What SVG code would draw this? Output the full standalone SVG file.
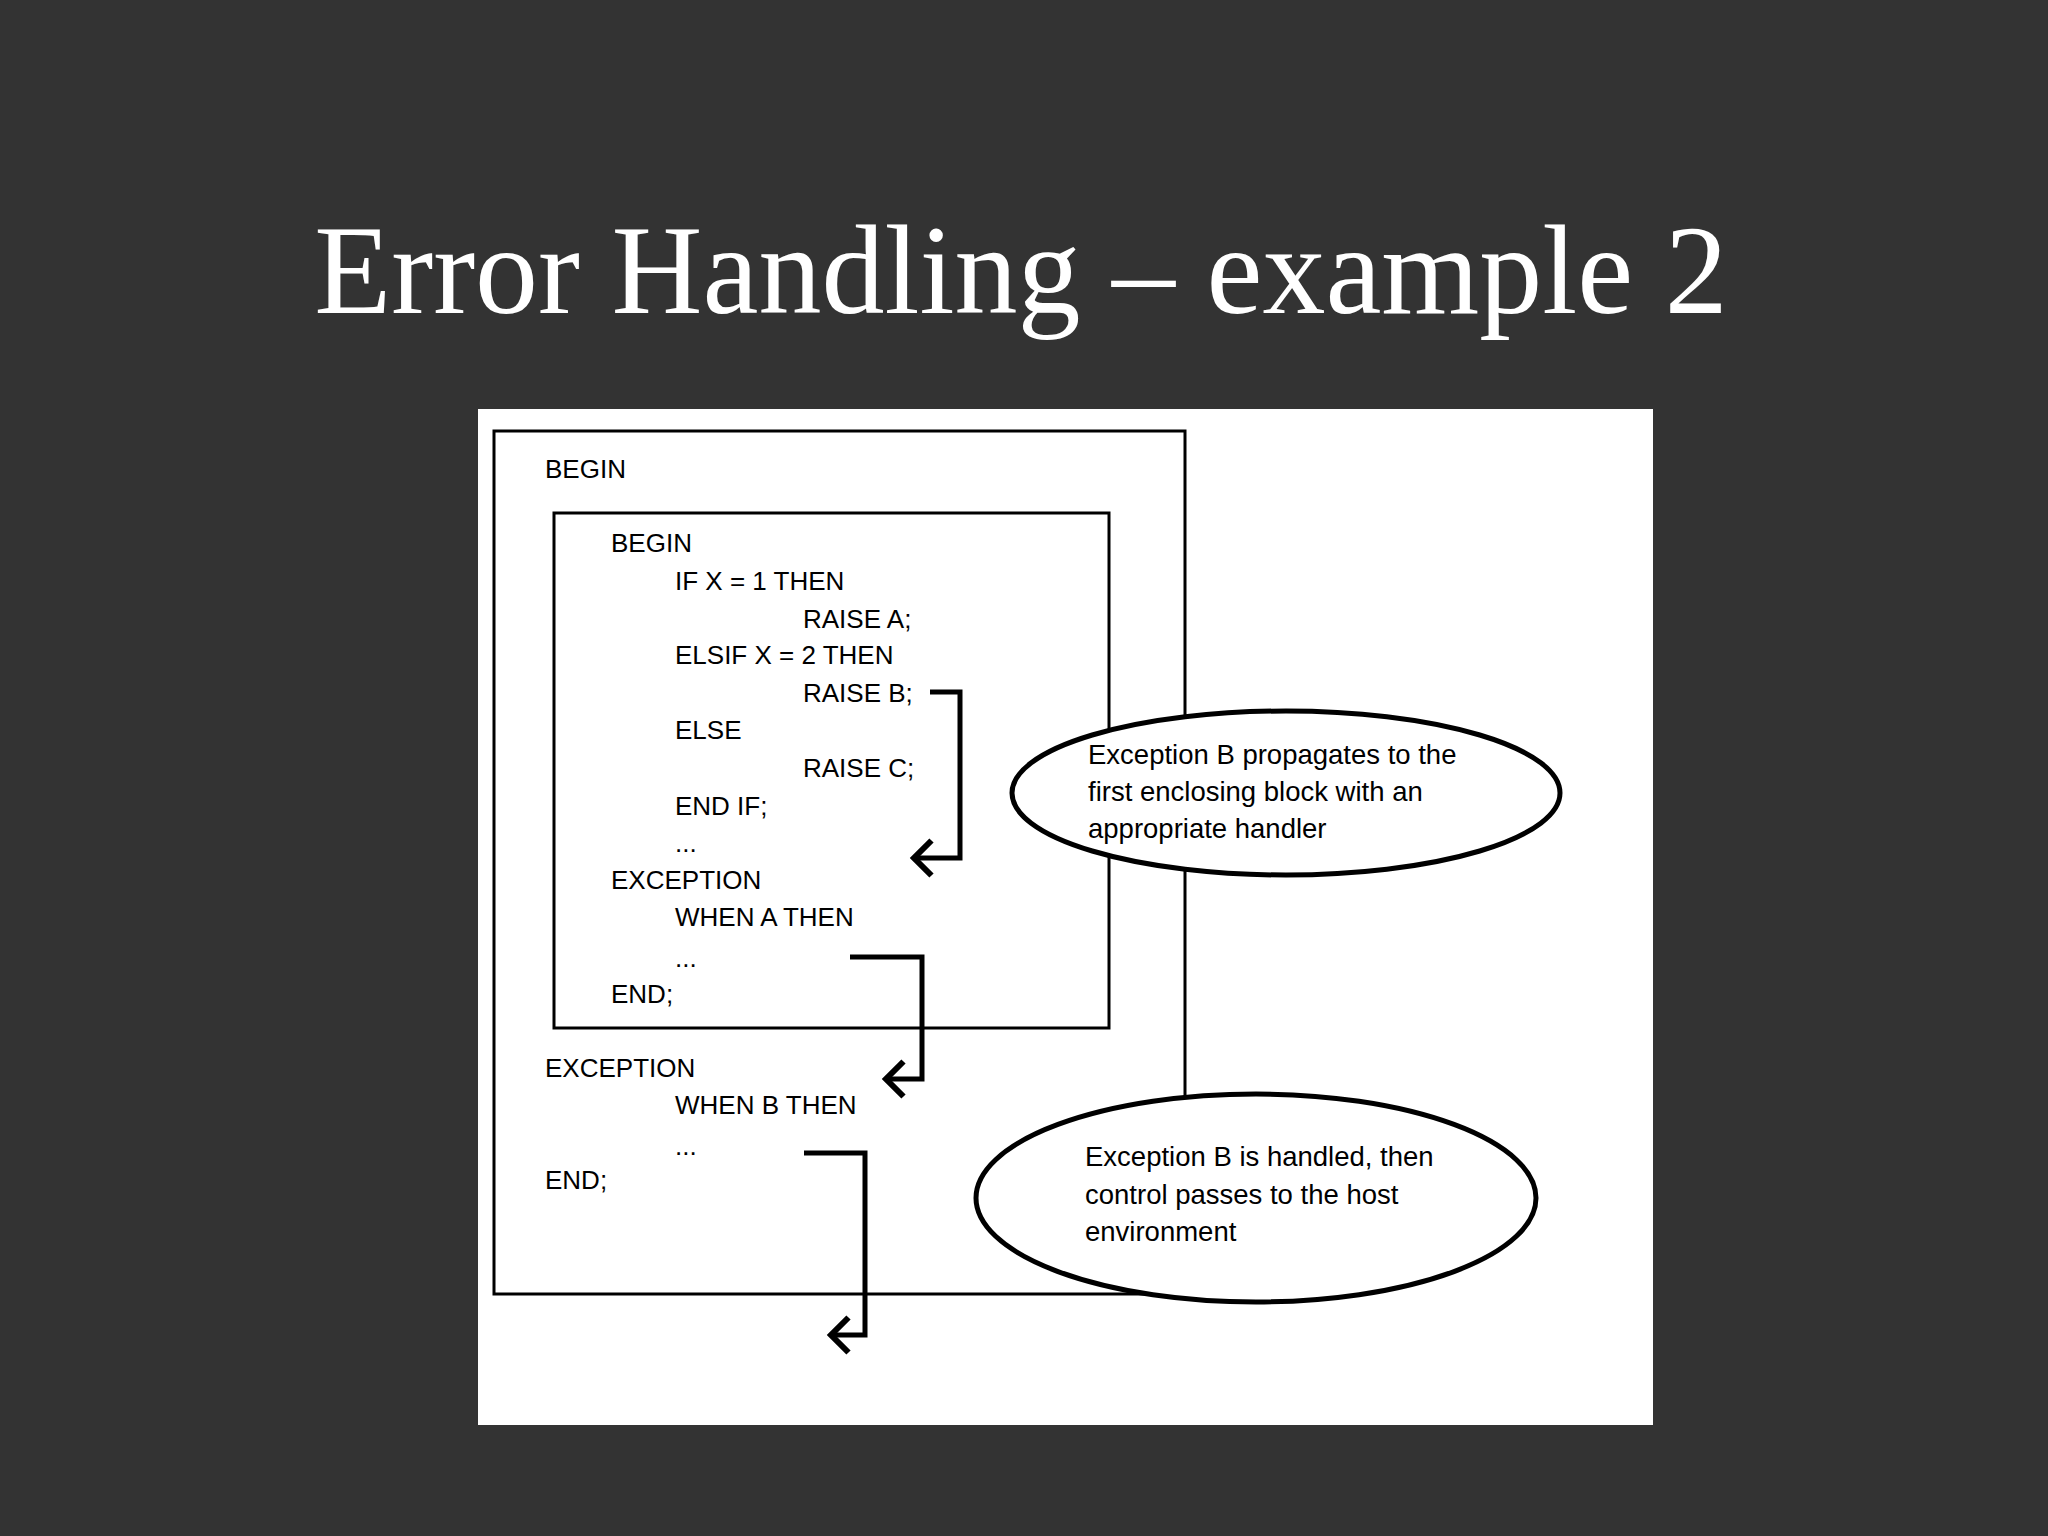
<svg xmlns="http://www.w3.org/2000/svg" width="2048" height="1536" viewBox="0 0 2048 1536">
<style>
.c{font-family:"Liberation Sans",Arial,sans-serif;font-size:26px;fill:#000}
.e{font-size:27.5px}
.a{fill:none;stroke:#000;stroke-width:5}
</style>
<defs><marker id="ah" markerWidth="8" markerHeight="8" refX="4" refY="4" orient="auto" markerUnits="strokeWidth"><path d="M0.5,0.5 L4,4 L0.5,7.5" fill="none" stroke="#000" stroke-width="1.2"/></marker></defs>
<rect width="2048" height="1536" fill="#333"/>
<text x="1021" y="313" text-anchor="middle" font-family="Liberation Serif,serif" font-size="126" fill="#fff">Error Handling – example 2</text>
<rect x="478" y="409" width="1175" height="1016" fill="#fff"/>
<g id="outer"><rect x="494" y="431" width="691" height="863" fill="none" stroke="#000" stroke-width="3"/>
<text class="c" x="545" y="478">BEGIN</text>
<text class="c" x="545" y="1077">EXCEPTION</text>
<text class="c" x="675" y="1114">WHEN B THEN</text>
<text class="c" x="675" y="1155">...</text>
<text class="c" x="545" y="1189">END;</text></g>
<g id="inner"><rect x="554" y="513" width="555" height="515" fill="none" stroke="#000" stroke-width="3"/>
<text class="c" x="611" y="552">BEGIN</text>
<text class="c" x="675" y="590">IF X = 1  THEN</text>
<text class="c" x="803" y="628">RAISE A;</text>
<text class="c" x="675" y="664">ELSIF X = 2 THEN</text>
<text class="c" x="803" y="702">RAISE B;</text>
<text class="c" x="675" y="739">ELSE</text>
<text class="c" x="803" y="777">RAISE C;</text>
<text class="c" x="675" y="815">END IF;</text>
<text class="c" x="675" y="852">...</text>
<text class="c" x="611" y="889">EXCEPTION</text>
<text class="c" x="675" y="926">WHEN A THEN</text>
<text class="c" x="675" y="967">...</text>
<text class="c" x="611" y="1003">END;</text></g>
<g id="connectors">
<path class="a" d="M930,692 H960 V858 H914" marker-end="url(#ah)"/>
<path class="a" d="M850,957 H922 V1079 H886" marker-end="url(#ah)"/>
<path class="a" d="M804,1153 H865 V1335 H831" marker-end="url(#ah)"/>
</g>
<g id="e1"><ellipse cx="1286" cy="793" rx="274" ry="82" fill="#fff" stroke="#000" stroke-width="5"/>
<text class="c e" x="1088" y="764">Exception B propagates to the</text>
<text class="c e" x="1088" y="801">first enclosing block with an</text>
<text class="c e" x="1088" y="838">appropriate handler</text></g>
<g id="e2"><ellipse cx="1256" cy="1198" rx="280" ry="104" fill="#fff" stroke="#000" stroke-width="5"/>
<text class="c e" x="1085" y="1166">Exception B is handled, then</text>
<text class="c e" x="1085" y="1204">control passes to the host</text>
<text class="c e" x="1085" y="1241">environment</text></g>
</svg>
